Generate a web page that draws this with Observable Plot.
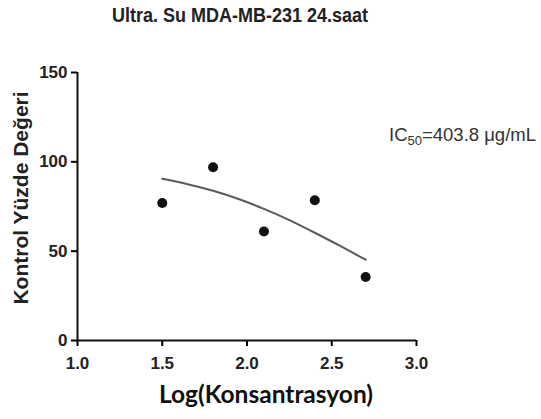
<!DOCTYPE html>
<html>
<head>
<meta charset="utf-8">
<script src="https://cdn.jsdelivr.net/npm/d3@7"></script>
<script src="https://cdn.jsdelivr.net/npm/@observablehq/plot@0.6"></script>
<style>
  html, body { margin: 0; padding: 0; background: #fff; }
  #wrap { position: relative; width: 541px; height: 419px; overflow: hidden; }
  #title { position: absolute; left: 0; width: 480px; top: 16px; text-align: center; white-space: nowrap;
    transform: translateY(-50%) scaleY(1.12);
    font-family: "Liberation Sans", Arial, sans-serif; font-weight: bold; font-size: 18px; color: #222; }
  #ic50 { position: absolute; left: 389px; top: 135px; transform: translateY(-50%);
    font-family: "Liberation Sans", Arial, sans-serif;
    font-size: 18.5px; color: #333; white-space: nowrap; }
  #ic50 sub { font-size: 13px; vertical-align: -4px; line-height: 0; }
  #ylab { position: absolute; left: 21px; top: 198px; transform: translate(-50%, -50%) rotate(-90deg);
    font-family: "Liberation Sans", Arial, sans-serif; font-weight: bold; font-size: 21px; color: #222; white-space: nowrap; }
  #xlab { position: absolute; left: 116px; width: 300px; top: 393px; transform: translateY(-50%); text-align: center;
    font-family: Lato, "Open Sans", sans-serif; font-weight: bold; font-size: 24.5px; color: #111; white-space: nowrap; }
</style>
</head>
<body>
<div id="wrap">
  <div id="title">Ultra. Su MDA-MB-231 24.saat</div>
  <div id="ylab">Kontrol Yüzde Değeri</div>
  <div id="xlab">Log(Konsantrasyon)</div>
  <div id="ic50">IC<sub>50</sub>=403.8 μg/mL</div>
</div>
<script>
// Measured points
const logConc = [1.5, 1.8, 2.1, 2.4, 2.7];
const percent = [77, 97, 61, 78.5, 35.5];
// Fitted curve
const fitX = [1.5, 1.65, 1.8, 1.95, 2.1, 2.25, 2.4, 2.55, 2.7];
const fitY = [90.5, 87.5, 83.8, 79.2, 73.7, 67.4, 60.3, 52.9, 45.2];
// Ticks
const xTicks = [1.0, 1.5, 2.0, 2.5, 3.0];
const yTicks = [0, 50, 100, 150];

const points = logConc.map((x, i) => ({x, y: percent[i]}));
const fit = fitX.map((x, i) => ({x, y: fitY[i]}));

const chart = Plot.plot({
  width: 541,
  height: 419,
  marginLeft: 77,
  marginRight: 125,
  marginTop: 72,
  marginBottom: 79,
  style: { fontFamily: "'Liberation Sans', Arial, sans-serif", background: "transparent", overflow: "visible" },
  x: { domain: [1, 3] },
  y: { domain: [0, 150] },
  marks: [
    Plot.axisX({ ticks: xTicks, tickFormat: d3.format(".1f"), tickSize: 6, tickPadding: 10, strokeWidth: 2,
      fontSize: 17, fontWeight: "bold", fill: "#222", label: null }),
    Plot.axisY({ ticks: yTicks, tickSize: 6, tickPadding: 4, strokeWidth: 2,
      fontSize: 17, fontWeight: "bold", fill: "#222", label: null }),
    Plot.ruleY([0], { stroke: "#111", strokeWidth: 2 }),
    Plot.ruleX([1], { stroke: "#111", strokeWidth: 2 }),
    Plot.line(fit, { x: "x", y: "y", curve: "natural", stroke: "#5a5a5a", strokeWidth: 2 }),
    Plot.dot(points, { x: "x", y: "y", r: 5, fill: "#111", stroke: "none" })
  ]
});
document.getElementById("wrap").prepend(chart);
chart.style.position = "absolute";
chart.style.left = "0";
chart.style.top = "0";
</script>
</body>
</html>
